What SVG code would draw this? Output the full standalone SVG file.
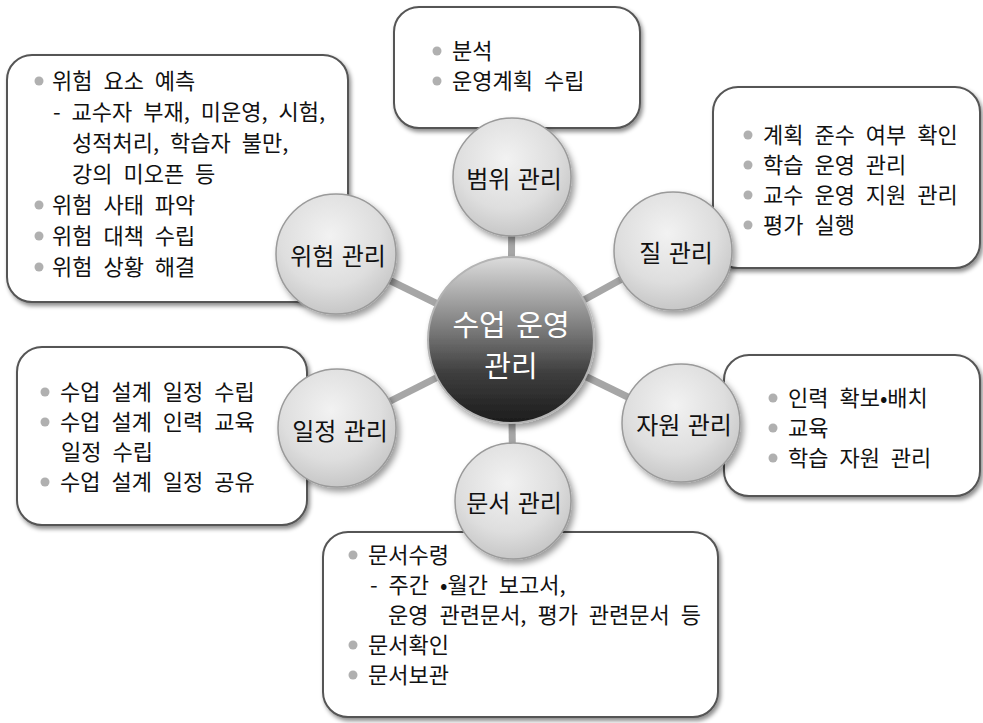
<svg xmlns="http://www.w3.org/2000/svg" width="983" height="723" viewBox="0 0 983 723">
<defs>
<style>
.box{fill:#fff;stroke:#555;stroke-width:2;filter:url(#sh)}
.t{font-family:"Noto Sans CJK KR","Noto Sans",sans-serif;font-size:22px;fill:#111;word-spacing:6px}
.lbl{font-family:"Noto Sans CJK KR","Noto Sans",sans-serif;font-size:24px;fill:#111;text-anchor:middle;word-spacing:2px}
.ctr{font-family:"Noto Sans CJK KR","Noto Sans",sans-serif;font-size:29px;fill:#fff;text-anchor:middle;word-spacing:4px}
.b{fill:#b0b0b0}
.sat{fill:url(#gs);stroke:#9a9a9a;stroke-width:1.5;filter:url(#csh)}
.con{stroke:#a6a6a6;stroke-width:7;fill:none}
</style>
<filter id="sh" x="-10%" y="-10%" width="125%" height="130%">
<feDropShadow dx="2" dy="3" stdDeviation="2" flood-color="#000" flood-opacity="0.45"/>
</filter>
<filter id="csh" x="-20%" y="-20%" width="150%" height="150%">
<feDropShadow dx="3" dy="4" stdDeviation="3" flood-color="#000" flood-opacity="0.4"/>
</filter>
<radialGradient id="gs" cx="0.45" cy="0.35" r="0.7">
<stop offset="0" stop-color="#f2f2f2"/>
<stop offset="0.6" stop-color="#dedede"/>
<stop offset="1" stop-color="#c2c2c2"/>
</radialGradient>
<linearGradient id="gc" x1="0" y1="0" x2="0" y2="1">
<stop offset="0" stop-color="#dcdcdc"/>
<stop offset="0.35" stop-color="#8e8e8e"/>
<stop offset="0.7" stop-color="#3e3e3e"/>
<stop offset="1" stop-color="#1c1c1c"/>
</linearGradient>
</defs>
<rect width="983" height="723" fill="#fff"/>

<g id="box-scope">
<rect class="box" x="394" y="7" width="246" height="121" rx="25"/>
<circle class="b" cx="437" cy="51" r="4.5"/><text class="t" x="452" y="59">분석</text>
<circle class="b" cx="437" cy="81" r="4.5"/><text class="t" x="452" y="89">운영계획 수립</text>
</g>
<g id="box-risk">
<rect class="box" x="7" y="55" width="341" height="247" rx="25"/>
<circle class="b" cx="39" cy="81" r="4.5"/><text class="t" x="52" y="89">위험 요소 예측</text>
<text class="t" x="53" y="120">- 교수자 부재, 미운영, 시험,</text>
<text class="t" x="72" y="151">성적처리, 학습자 불만,</text>
<text class="t" x="72" y="182">강의 미오픈 등</text>
<circle class="b" cx="39" cy="205" r="4.5"/><text class="t" x="52" y="213">위험 사태 파악</text>
<circle class="b" cx="39" cy="236" r="4.5"/><text class="t" x="52" y="244">위험 대책 수립</text>
<circle class="b" cx="39" cy="267" r="4.5"/><text class="t" x="52" y="275">위험 상황 해결</text>
</g>
<g id="box-quality">
<rect class="box" x="713" y="87" width="267" height="181" rx="25"/>
<circle class="b" cx="748" cy="135" r="4.5"/><text class="t" x="763" y="143">계획 준수 여부 확인</text>
<circle class="b" cx="748" cy="165" r="4.5"/><text class="t" x="763" y="173">학습 운영 관리</text>
<circle class="b" cx="748" cy="195" r="4.5"/><text class="t" x="763" y="203">교수 운영 지원 관리</text>
<circle class="b" cx="748" cy="225" r="4.5"/><text class="t" x="763" y="233">평가 실행</text>
</g>
<g id="box-resource">
<rect class="box" x="724" y="355" width="256" height="141" rx="25"/>
<circle class="b" cx="773" cy="398" r="4.5"/><text class="t" x="788" y="406">인력 확보•배치</text>
<circle class="b" cx="773" cy="428" r="4.5"/><text class="t" x="788" y="436">교육</text>
<circle class="b" cx="773" cy="458" r="4.5"/><text class="t" x="788" y="466">학습 자원 관리</text>
</g>
<g id="box-schedule">
<rect class="box" x="17" y="347" width="290" height="178" rx="25"/>
<circle class="b" cx="45" cy="392" r="4.5"/><text class="t" x="60" y="400">수업 설계 일정 수립</text>
<circle class="b" cx="45" cy="422" r="4.5"/><text class="t" x="60" y="430">수업 설계 인력 교육</text>
<text class="t" x="61" y="460">일정 수립</text>
<circle class="b" cx="45" cy="482" r="4.5"/><text class="t" x="60" y="490">수업 설계 일정 공유</text>
</g>
<g id="box-document">
<rect class="box" x="323" y="532" width="395" height="185" rx="25"/>
<circle class="b" cx="353" cy="555" r="4.5"/><text class="t" x="368" y="563">문서수령</text>
<text class="t" x="370" y="593">- 주간 •월간 보고서,</text>
<text class="t" x="388" y="623">운영 관련문서, 평가 관련문서 등</text>
<circle class="b" cx="353" cy="645" r="4.5"/><text class="t" x="368" y="653">문서확인</text>
<circle class="b" cx="353" cy="675" r="4.5"/><text class="t" x="368" y="683">문서보관</text>
</g>

<g id="connectors">
<line class="con" x1="511" y1="340" x2="512" y2="177"/>
<line class="con" x1="511" y1="340" x2="673" y2="251"/>
<line class="con" x1="511" y1="340" x2="681" y2="423"/>
<line class="con" x1="511" y1="340" x2="513" y2="501"/>
<line class="con" x1="511" y1="340" x2="337" y2="428"/>
<line class="con" x1="511" y1="340" x2="336" y2="254"/>
</g>

<g id="node-scope"><circle class="sat" cx="512" cy="177" r="59"/><text class="lbl" x="514" y="188">범위 관리</text></g>
<g id="node-quality"><circle class="sat" cx="673" cy="251" r="59"/><text class="lbl" x="676" y="262">질 관리</text></g>
<g id="node-resource"><circle class="sat" cx="681" cy="423" r="59"/><text class="lbl" x="684" y="434">자원 관리</text></g>
<g id="node-document"><circle class="sat" cx="513" cy="501" r="58"/><text class="lbl" x="514" y="512">문서 관리</text></g>
<g id="node-schedule"><circle class="sat" cx="337" cy="428" r="59"/><text class="lbl" x="340" y="440">일정 관리</text></g>
<g id="node-risk"><circle class="sat" cx="336" cy="254" r="60"/><text class="lbl" x="338" y="265">위험 관리</text></g>

<g id="node-center">
<circle cx="511" cy="340" r="83" fill="url(#gc)" stroke="#b4b4b4" stroke-width="2" filter="url(#csh)"/>
<text class="ctr" x="511" y="336">수업 운영</text>
<text class="ctr" x="511" y="377">관리</text>
</g>
</svg>
